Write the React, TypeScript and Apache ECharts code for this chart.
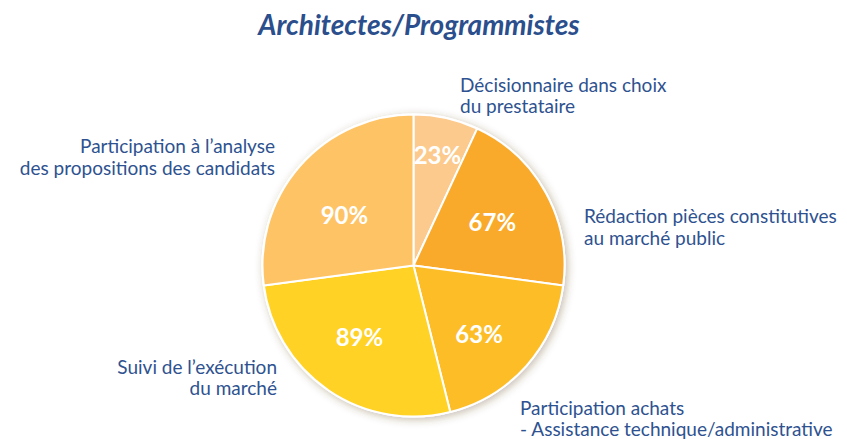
import React, { useEffect, useRef } from "react";
import * as echarts from "echarts";

const titleText = "Architectes/Programmistes";
const categories = [
  "Décisionnaire dans choix\ndu prestataire",
  "Rédaction pièces constitutives\nau marché public",
  "Participation achats\n- Assistance technique/administrative",
  "Suivi de l’exécution\ndu marché",
  "Participation à l’analyse\ndes propositions des candidats",
];
const values = [23, 67, 63, 89, 90];
const sliceColors = ["#fdca8d", "#f9aa2a", "#fdbd27", "#ffd225", "#fec365"];

// layout (styles only)
const CX = 413.5;
const CY = 265.5;
const R = 151;
const pctOffsets = [
  [7, -34],
  [10, -6],
  [7, 16],
  [-10, 6],
  [-10, 1],
];
const outerLabelPos: { x: number; y: number; align: "left" | "right"; lh: number }[] = [
  { x: 460, y: 94.5, align: "left", lh: 21 },
  { x: 584, y: 226, align: "left", lh: 22 },
  { x: 520, y: 417.5, align: "left", lh: 21 },
  { x: 277, y: 376.5, align: "right", lh: 21 },
  { x: 275, y: 156, align: "right", lh: 22 },
];

const FONT = "Lato, 'Open Sans', sans-serif";
const TEXT_COLOR = "#2e5290";

export default function App() {
  const ref = useRef<HTMLDivElement>(null);
  useEffect(() => {
    document.body.style.margin = "0";
    const chart = echarts.init(ref.current!, undefined, { renderer: "svg" });
    const option = {
      animation: false,
      backgroundColor: "#ffffff",
      graphic: [
        {
          type: "text",
          x: 419,
          y: 24,
          style: {
            text: titleText,
            fill: "#2b4e8c",
            font: `italic bold 28px ${FONT}`,
            align: "center",
            verticalAlign: "middle",
          },
        },
        ...categories.map((c, i) => ({
          type: "text",
          x: outerLabelPos[i].x,
          y: outerLabelPos[i].y,
          style: {
            text: c,
            fill: TEXT_COLOR,
            font: `19px ${FONT}`,
            lineHeight: outerLabelPos[i].lh,
            align: outerLabelPos[i].align,
            verticalAlign: "middle",
          },
        })),
      ],
      series: [
        {
          type: "pie",
          silent: true,
          center: [CX, CY],
          radius: [0, R + 1],
          startAngle: 90,
          label: { show: false },
          labelLine: { show: false },
          itemStyle: {
            color: "#ffffff",
            shadowBlur: 8,
            shadowColor: "rgba(90,60,20,0.35)",
            shadowOffsetX: 2,
            shadowOffsetY: 2,
          },
          data: [{ value: 1, name: "bg" }],
          z: 1,
        },
        {
          type: "pie",
          center: [CX, CY],
          radius: [0, R],
          startAngle: 90,
          clockwise: true,
          z: 2,
          itemStyle: { borderColor: "#ffffff", borderWidth: 2 },
          label: {
            show: true,
            position: "inside",
            formatter: (p: any) => p.value + "%",
            color: "#ffffff",
            fontFamily: FONT,
            fontWeight: "bold",
            fontSize: 24,
          },
          labelLine: { show: false },
          labelLayout: (params: any) => ({
            dx: pctOffsets[params.dataIndex][0],
            dy: pctOffsets[params.dataIndex][1],
          }),
          data: values.map((v, i) => ({
            value: v,
            name: categories[i],
            itemStyle: { color: sliceColors[i] },
          })),
        },
      ],
    };
    chart.setOption(option as any);
    return () => chart.dispose();
  }, []);
  return <div ref={ref} style={{ width: 847, height: 439 }} />;
}
